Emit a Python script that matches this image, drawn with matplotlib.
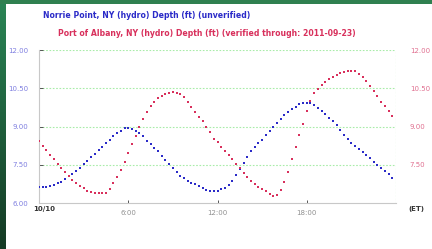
import numpy as np
import matplotlib
matplotlib.use('Agg')
import matplotlib.pyplot as plt
from matplotlib.patches import Rectangle
from matplotlib.colors import LinearSegmentedColormap

# readings every 15 minutes, starting 10/10 00:00
HOURS = np.arange(96) * 0.25

NORRIE_POINT = [
    6.63, 6.63, 6.64, 6.67, 6.71, 6.78, 6.84, 6.93, 7.04, 7.13, 7.26, 7.39,
    7.53, 7.66, 7.79, 7.92, 8.08, 8.21, 8.34, 8.47, 8.61, 8.74, 8.84, 8.93,
    8.96, 8.89, 8.82, 8.75, 8.61, 8.43, 8.31, 8.17, 8.02, 7.85, 7.67, 7.51,
    7.36, 7.20, 7.07, 6.97, 6.88, 6.80, 6.75, 6.66, 6.58, 6.51, 6.47, 6.47,
    6.49, 6.55, 6.60, 6.72, 6.88, 7.08, 7.33, 7.56, 7.80, 8.02, 8.19, 8.36,
    8.49, 8.67, 8.82, 8.99, 9.13, 9.29, 9.44, 9.57, 9.68, 9.78, 9.87, 9.92,
    9.94, 9.93, 9.86, 9.74, 9.62, 9.48, 9.35, 9.20, 9.04, 8.85, 8.67, 8.50,
    8.34, 8.22, 8.11, 8.00, 7.88, 7.75, 7.62, 7.50, 7.38, 7.26, 7.13, 7.00,
]
ALBANY = [
    8.45, 8.25, 8.08, 7.90, 7.71, 7.53, 7.37, 7.22, 7.07, 6.92, 6.79, 6.67,
    6.57, 6.47, 6.42, 6.39, 6.38, 6.38, 6.41, 6.55, 6.78, 7.02, 7.30, 7.62,
    7.95, 8.30, 8.64, 8.98, 9.30, 9.58, 9.80, 9.97, 10.10, 10.18, 10.26, 10.32,
    10.34, 10.33, 10.27, 10.15, 9.97, 9.78, 9.57, 9.38, 9.20, 9.00, 8.77, 8.52,
    8.38, 8.20, 8.04, 7.88, 7.72, 7.53, 7.37, 7.19, 7.02, 6.87, 6.74, 6.62,
    6.53, 6.46, 6.36, 6.29, 6.33, 6.52, 6.83, 7.22, 7.72, 8.20, 8.66, 9.10,
    9.60, 10.00, 10.30, 10.48, 10.62, 10.74, 10.85, 10.95, 11.03, 11.09, 11.14, 11.18,
    11.19, 11.16, 11.07, 10.93, 10.78, 10.60, 10.40, 10.19, 9.98, 9.80, 9.62, 9.40,
]

Y_TICKS = [6.0, 7.5, 9.0, 10.5, 12.0]
X_TICKS = [6, 12, 18]
X_LABELS = ['6:00', '12:00', '18:00']

TITLE_1 = 'Norrie Point, NY (hydro) Depth (ft) (unverified)'
TITLE_2 = 'Port of Albany, NY (hydro) Depth (ft) (verified through: 2011-09-23)'

# appearance
BLUE = '#2b2bc8'
RED = '#d8305c'
LEFT_LABEL = '#7f7fe0'
RIGHT_LABEL = '#e07090'
GRID = '#a8eca8'
FONT = 5
TITLE_FONT = 5.6

fig = plt.figure(figsize=(4.32, 2.49), dpi=100)
fig.patch.set_facecolor('white')

# green frame at the top and the left edge
fig.patches.append(Rectangle((0, 1 - 4 / 249), 1, 4 / 249, transform=fig.transFigure,
                             facecolor='#2f8050', edgecolor='none', zorder=0))
band = fig.add_axes([0, 0, 6 / 432, 1])
cmap = LinearSegmentedColormap.from_list('band', ['#143a24', '#2a8555'])
band.imshow(np.linspace(0, 1, 100).reshape(-1, 1), aspect='auto', cmap=cmap, origin='lower')
band.axis('off')

ax = fig.add_axes([39 / 432, 46 / 249, 357 / 432, 153 / 249])
ax.set_xlim(0, 24)
ax.set_ylim(6, 12)

ax.plot(HOURS, NORRIE_POINT, linestyle='none', marker='s', markersize=1.6,
        color=BLUE, markeredgewidth=0, zorder=3)
ax.plot(HOURS, ALBANY, linestyle='none', marker='s', markersize=1.6,
        color=RED, markeredgewidth=0, zorder=3)

for v in Y_TICKS[1:]:
    ax.axhline(v, color=GRID, linestyle=(0, (1.5, 1.5)), linewidth=0.8, zorder=1)
ax.axvline(24, color=GRID, linestyle=(0, (1.5, 1.5)), linewidth=0.8, zorder=1)

for side in ['top', 'right']:
    ax.spines[side].set_visible(False)
for side in ['left', 'bottom']:
    ax.spines[side].set_color('#c8c8c8')
    ax.spines[side].set_linewidth(0.8)

ax.set_yticks(Y_TICKS)
ax.set_yticklabels(['%.2f' % v for v in Y_TICKS], color=LEFT_LABEL, fontsize=FONT)
ax.tick_params(axis='y', direction='in', length=3, width=0.7, color='#555555', pad=8)

ax.set_xticks(X_TICKS)
ax.set_xticklabels(X_LABELS, color='#909090', fontsize=FONT)
ax.tick_params(axis='x', direction='in', length=2.5, width=0.7, color='#555555', pad=5)

ax2 = ax.twinx()
ax2.set_ylim(6, 12)
ax2.set_yticks(Y_TICKS[1:])
ax2.set_yticklabels(['%.2f' % v for v in Y_TICKS[1:]], color=RIGHT_LABEL, fontsize=FONT)
ax2.tick_params(axis='y', length=0, pad=10)
for side in ax2.spines:
    ax2.spines[side].set_visible(False)

fig.text(44 / 432, 1 - 209 / 249, '10/10', fontsize=FONT, fontweight='bold',
         color='#333333', ha='center', va='center')
fig.text(416 / 432, 1 - 209 / 249, '(ET)', fontsize=FONT, fontweight='bold',
         color='#333333', ha='center', va='center')

fig.text(43 / 432, 1 - 16 / 249, TITLE_1, fontsize=TITLE_FONT, fontweight='bold',
         color=BLUE, ha='left', va='center')
fig.text(58 / 432, 1 - 34 / 249, TITLE_2, fontsize=TITLE_FONT, fontweight='bold',
         color=RED, ha='left', va='center')

fig.savefig('out.png', dpi=100)
